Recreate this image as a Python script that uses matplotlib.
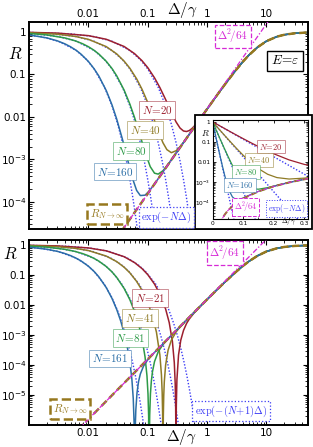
import numpy as np
import matplotlib
matplotlib.use("Agg")
import matplotlib.pyplot as plt
from matplotlib.colors import to_rgba
from matplotlib.patches import Rectangle
from matplotlib.ticker import LogLocator, NullFormatter, MultipleLocator

# ---------------- values ----------------
# R of the infinite chain
delta_inf = [0.005, 0.01, 0.02, 0.03, 0.04, 0.05, 0.07, 0.1, 0.15, 0.2, 0.25, 0.3, 0.4,
             0.5, 0.7, 1.0, 1.5, 2.0, 3.0, 4.0, 5.0, 7.0, 10.0, 15.0, 20.0, 30.0, 50.0]
r_inf = [3.91e-7, 1.56e-6, 6.25e-6, 1.41e-5, 2.50e-5, 3.91e-5, 7.66e-5, 1.56e-4, 3.51e-4,
         6.25e-4, 9.76e-4, 1.40e-3, 2.49e-3, 3.89e-3, 7.60e-3, 0.0154, 0.0340, 0.0588,
         0.123, 0.200, 0.281, 0.434, 0.610, 0.779, 0.862, 0.934, 0.975]
# small-Delta asymptote Delta^2/64
delta_sq = [0.005, 0.01, 0.02, 0.03, 0.04, 0.05, 0.07, 0.1, 0.15, 0.2, 0.25, 0.3, 0.5,
            1.0, 5.0, 12.0]
r_sq = [3.91e-7, 1.56e-6, 6.25e-6, 1.41e-5, 2.50e-5, 3.91e-5, 7.66e-5, 1.56e-4, 3.52e-4,
        6.25e-4, 9.77e-4, 1.41e-3, 3.91e-3, 0.0156, 0.391, 2.25]

# top panel, even N (curves continue on r_inf past their last point)
delta_n20 = [0.001, 0.003, 0.01, 0.02, 0.04, 0.06, 0.08, 0.1, 0.13, 0.16, 0.2, 0.25, 0.3,
             0.35, 0.4, 0.45, 0.5, 0.55, 0.6, 0.7, 0.8, 1.0]
r_n20 = [0.980, 0.943, 0.821, 0.674, 0.456, 0.309, 0.211, 0.145, 0.0834, 0.0492, 0.0257,
         0.0128, 7.62e-3, 5.47e-3, 4.67e-3, 4.54e-3, 4.78e-3, 5.28e-3, 5.97e-3, 7.76e-3,
         9.97e-3, 0.0154]
delta_n40 = [0.001, 0.003, 0.006, 0.01, 0.02, 0.03, 0.04, 0.05, 0.065, 0.08, 0.1, 0.12,
             0.15, 0.18, 0.21, 0.25, 0.3, 0.35, 0.4, 0.5, 0.6]
r_n40 = [0.961, 0.888, 0.788, 0.672, 0.453, 0.305, 0.206, 0.140, 0.0788, 0.0449, 0.0219,
         0.0112, 4.70e-3, 2.48e-3, 1.70e-3, 1.44e-3, 1.60e-3, 1.99e-3, 2.53e-3, 3.90e-3,
         5.59e-3]
delta_n80 = [0.001, 0.002, 0.004, 0.006, 0.008, 0.01, 0.0125, 0.015, 0.02, 0.025, 0.03,
             0.04, 0.05, 0.06, 0.075, 0.09, 0.11, 0.13, 0.15, 0.18, 0.21, 0.25, 0.3]
r_n80 = [0.923, 0.853, 0.726, 0.620, 0.529, 0.451, 0.370, 0.303, 0.204, 0.138, 0.0930,
         0.0428, 0.0200, 9.65e-3, 3.50e-3, 1.49e-3, 6.77e-4, 4.74e-4, 4.51e-4, 5.40e-4,
         7.01e-4, 9.79e-4, 1.41e-3]
delta_n160 = [0.001, 0.002, 0.003, 0.004, 0.005, 0.00625, 0.0075, 0.01, 0.0125, 0.015, 0.02,
              0.025, 0.03, 0.0375, 0.045, 0.055, 0.065, 0.075, 0.09, 0.105, 0.125, 0.15, 0.2]
r_n160 = [0.852, 0.727, 0.619, 0.528, 0.450, 0.369, 0.302, 0.203, 0.136, 0.0919, 0.0418,
          0.0192, 8.92e-3, 2.97e-3, 1.09e-3, 3.67e-4, 1.86e-4, 1.41e-4, 1.44e-4, 1.78e-4,
          2.46e-4, 3.52e-4, 6.25e-4]

# bottom panel, odd N
delta_n21 = [0.001, 0.003, 0.01, 0.02, 0.04, 0.06, 0.08, 0.1, 0.13, 0.16, 0.2, 0.23, 0.26,
             0.28, 0.29, 0.295, 0.2975, 0.2985, 0.2995, 0.3005, 0.303, 0.31, 0.33, 0.36, 0.4,
             0.45, 0.5, 0.6, 0.7, 0.8, 1.0]
r_n21 = [0.978, 0.935, 0.800, 0.640, 0.408, 0.259, 0.164, 0.103, 0.0498, 0.0231, 7.36e-3,
         2.59e-3, 6.14e-4, 1.20e-4, 2.42e-5, 4.38e-6, 5.2e-7, 3.4e-8, 1.2e-7, 7.8e-7,
         4.79e-6, 3.26e-5, 2.17e-4, 6.73e-4, 1.42e-3, 2.42e-3, 3.40e-3, 5.39e-3, 7.52e-3,
         9.87e-3, 0.0154]
delta_n41 = [0.001, 0.003, 0.006, 0.01, 0.02, 0.03, 0.04, 0.05, 0.065, 0.08, 0.1, 0.12, 0.14,
             0.16, 0.17, 0.175, 0.178, 0.1798, 0.1812, 0.183, 0.186, 0.19, 0.2, 0.22, 0.25,
             0.3, 0.35, 0.4, 0.5, 0.6]
r_n41 = [0.959, 0.881, 0.776, 0.655, 0.428, 0.280, 0.182, 0.118, 0.0611, 0.0311, 0.0121,
         4.29e-3, 1.25e-3, 2.17e-4, 4.77e-5, 1.21e-5, 2.41e-6, 2.0e-7, 1.6e-7, 2.09e-6,
         9.79e-6, 2.76e-5, 1.00e-4, 3.11e-4, 6.76e-4, 1.27e-3, 1.86e-3, 2.47e-3, 3.89e-3,
         5.59e-3]
delta_n81 = [0.001, 0.002, 0.004, 0.006, 0.008, 0.01, 0.0125, 0.015, 0.02, 0.025, 0.03, 0.04,
             0.05, 0.06, 0.07, 0.08, 0.09, 0.097, 0.101, 0.1035, 0.1051, 0.1061, 0.1078,
             0.111, 0.115, 0.12, 0.13, 0.15, 0.18, 0.22, 0.3]
r_n81 = [0.921, 0.848, 0.720, 0.610, 0.517, 0.439, 0.357, 0.290, 0.192, 0.127, 0.0833,
         0.0357, 0.0150, 6.07e-3, 2.30e-3, 7.63e-4, 1.88e-4, 4.38e-5, 1.08e-5, 2.01e-6,
         9.5e-8, 1.3e-7, 2.07e-6, 1.10e-5, 2.93e-5, 5.93e-5, 1.30e-4, 2.76e-4, 4.79e-4,
         7.50e-4, 1.40e-3]
delta_n161 = [0.001, 0.002, 0.003, 0.004, 0.005, 0.00625, 0.0075, 0.01, 0.0125, 0.015, 0.02,
              0.025, 0.03, 0.035, 0.04, 0.045, 0.05, 0.054, 0.057, 0.059, 0.06, 0.0607,
              0.0617, 0.063, 0.066, 0.07, 0.075, 0.085, 0.1, 0.12, 0.15, 0.2]
r_n161 = [0.850, 0.723, 0.615, 0.522, 0.444, 0.362, 0.296, 0.197, 0.131, 0.0869, 0.0382,
          0.0166, 7.10e-3, 2.95e-3, 1.17e-3, 4.20e-4, 1.25e-4, 3.42e-5, 7.61e-6, 1.06e-6,
          6.3e-8, 7.0e-8, 9.2e-7, 3.23e-6, 1.21e-5, 2.81e-5, 5.01e-5, 9.22e-5, 1.49e-4,
          2.23e-4, 3.51e-4, 6.25e-4]

# exp guides: one decay profile, Delta positions per curve
exp_decay = [0.980, 0.905, 0.779, 0.607, 0.368, 0.223, 0.135, 0.0498, 0.0183, 6.74e-3,
             2.48e-3, 9.12e-4, 3.35e-4, 1.23e-4, 4.54e-5, 1.67e-5, 6.14e-6, 2.26e-6, 8.32e-7]
delta_exp20 = [0.001, 0.005, 0.0125, 0.025, 0.05, 0.075, 0.1, 0.15, 0.2, 0.25, 0.3, 0.35,
               0.4, 0.45, 0.5, 0.55, 0.6, 0.65, 0.7]
delta_exp40 = [0.0005, 0.0025, 0.00625, 0.0125, 0.025, 0.0375, 0.05, 0.075, 0.1, 0.125,
               0.15, 0.175, 0.2, 0.225, 0.25, 0.275, 0.3, 0.325, 0.35]
delta_exp80 = [0.00025, 0.00125, 0.003125, 0.00625, 0.0125, 0.01875, 0.025, 0.0375, 0.05,
               0.0625, 0.075, 0.0875, 0.1, 0.1125, 0.125, 0.1375, 0.15, 0.1625, 0.175]
delta_exp160 = [0.000125, 0.000625, 0.0015625, 0.003125, 0.00625, 0.009375, 0.0125,
                0.01875, 0.025, 0.03125, 0.0375, 0.04375, 0.05, 0.05625, 0.0625, 0.06875,
                0.075, 0.08125, 0.0875]
delta_exp22 = [0.000909, 0.004545, 0.011364, 0.022727, 0.045455, 0.068182, 0.090909,
               0.136364, 0.181818, 0.227273, 0.272727, 0.318182, 0.363636, 0.409091,
               0.454545, 0.5, 0.545455, 0.590909, 0.636364]
delta_exp42 = [0.000476, 0.002381, 0.005952, 0.011905, 0.02381, 0.035714, 0.047619,
               0.071429, 0.095238, 0.119048, 0.142857, 0.166667, 0.190476, 0.214286,
               0.238095, 0.261905, 0.285714, 0.309524, 0.333333]
delta_exp82 = [0.000244, 0.00122, 0.003049, 0.006098, 0.012195, 0.018293, 0.02439,
               0.036585, 0.04878, 0.060976, 0.073171, 0.085366, 0.097561, 0.109756,
               0.121951, 0.134146, 0.146341, 0.158537, 0.170732]
delta_exp162 = [0.000123, 0.000617, 0.001543, 0.003086, 0.006173, 0.009259, 0.012346,
                0.018519, 0.024691, 0.030864, 0.037037, 0.04321, 0.049383, 0.055556,
                0.061728, 0.067901, 0.074074, 0.080247, 0.08642]

top_labels = ["20", "40", "80", "160"]
bottom_labels = ["21", "41", "81", "161"]

# ---------------- style ----------------
C_RED, C_OLIVE, C_GREEN, C_BLUE = "#9c1f2e", "#8f7b26", "#2d9a47", "#2b6ea6"
C_INF, C_MAG, C_EXP = "#96781e", "#d62ad6", "#3c3cf5"
colors = [C_RED, C_OLIVE, C_GREEN, C_BLUE]

W, H = 313, 447
fig = plt.figure(figsize=(W / 100, H / 100), dpi=100)


def px_axes(x0, y0, x1, y1):
    return fig.add_axes([x0 / W, 1 - y1 / H, (x1 - x0) / W, (y1 - y0) / H])


def label(x, y, s, color, size, ls="-", lw=0.7, ec_alpha=0.5, pad=0.25, box=True):
    kw = dict(color=color, fontsize=size, ha="center", va="center", math_fontfamily="cm")
    if box:
        kw["bbox"] = dict(boxstyle=f"square,pad={pad}", fc="white",
                          ec=to_rgba(color, ec_alpha), lw=lw, ls=ls)
    fig.text(x / W, 1 - y / H, s, **kw)


def extend(d, r):
    d, r = np.asarray(d), np.asarray(r)
    di, ri = np.asarray(delta_inf), np.asarray(r_inf)
    m = di > d[-1]
    return np.concatenate([d, di[m]]), np.concatenate([r, ri[m]])


def draw(ax, curves, exps, lw=1.1):
    for (d, r), c in zip(curves, colors):
        x, y = extend(d, r)
        ax.plot(x, y, color=c, lw=lw, zorder=2)
    for d in exps:
        ax.plot(d, exp_decay, color=C_EXP, lw=1.0, ls=(0, (1, 1.3)), zorder=1.5)
    ax.plot(delta_inf, r_inf, color=C_INF, lw=lw * 1.6, ls=(0, (3, 1.5)), zorder=2.5)
    ax.plot(delta_sq, r_sq, color=C_MAG, lw=lw * 0.85, ls=(0, (4, 1.5, 1, 1.5)), zorder=2.6)


def style_log(ax, ylim, yticks, ylabels, top):
    ax.set_xscale("log")
    ax.set_yscale("log")
    ax.set_xlim(1e-3, 50)
    ax.set_ylim(*ylim)
    ax.set_xticks([0.01, 0.1, 1, 10])
    ax.set_xticklabels(["0.01", "0.1", "1", "10"])
    ax.set_yticks(yticks)
    ax.set_yticklabels(ylabels)
    for a in (ax.xaxis, ax.yaxis):
        a.set_minor_locator(LogLocator(base=10, subs=[2, 3, 4, 5, 6, 7, 8, 9], numticks=20))
        a.set_minor_formatter(NullFormatter())
    ax.tick_params(which="both", direction="in", top=True, right=True, labelsize=7.5, pad=2)
    ax.tick_params(labeltop=top, labelbottom=not top)
    ax.tick_params(which="major", length=3.5, width=0.8)
    ax.tick_params(which="minor", length=2, width=0.6)
    for s in ax.spines.values():
        s.set_linewidth(1.4)


# ---------------- top panel: E = epsilon, even N ----------------
ax1 = px_axes(29, 22, 308, 229)
draw(ax1, [(delta_n20, r_n20), (delta_n40, r_n40), (delta_n80, r_n80), (delta_n160, r_n160)],
     [delta_exp20, delta_exp40, delta_exp80, delta_exp160])
style_log(ax1, (2.3e-5, 1.72), [1e-4, 1e-3, 1e-2, 0.1, 1],
          ["$10^{-4}$", "$10^{-3}$", "0.01", "0.1", "1"], top=True)

# ---------------- bottom panel: odd N ----------------
ax2 = px_axes(29, 240, 308, 425)
draw(ax2, [(delta_n21, r_n21), (delta_n41, r_n41), (delta_n81, r_n81), (delta_n161, r_n161)],
     [delta_exp22, delta_exp42, delta_exp82, delta_exp162])
style_log(ax2, (1e-6, 1.47), [1e-5, 1e-4, 1e-3, 1e-2, 0.1, 1],
          ["$10^{-5}$", "$10^{-4}$", "$10^{-3}$", "0.01", "0.1", "1"], top=False)

# ---------------- inset (linear Delta) ----------------
fig.add_artist(Rectangle((194.5 / W, 1 - 229 / H), (312 - 194.5) / W, (229 - 115) / H,
                         transform=fig.transFigure, fc="white", ec="black", lw=1.3,
                         zorder=1))
axi = px_axes(212.5, 120, 307.5, 219)
axi.set_zorder(2)
draw(axi, [(delta_n20, r_n20), (delta_n40, r_n40), (delta_n80, r_n80), (delta_n160, r_n160)],
     [delta_exp20, delta_exp40, delta_exp80, delta_exp160], lw=0.9)
axi.set_yscale("log")
axi.set_xlim(0, 0.31)
axi.set_ylim(1.5e-5, 1.22)
axi.set_xticks([0, 0.1, 0.2, 0.3])
axi.set_xticklabels(["0", "0.1", "0.2", "0.3"])
axi.xaxis.set_minor_locator(MultipleLocator(0.05))
axi.set_yticks([1e-4, 1e-3, 1e-2, 0.1, 1])
axi.set_yticklabels(["$10^{-4}$", "$10^{-3}$", "0.01", "0.1", "1"])
axi.yaxis.set_minor_locator(LogLocator(base=10, subs=[2, 3, 4, 5, 6, 7, 8, 9], numticks=20))
axi.yaxis.set_minor_formatter(NullFormatter())
axi.tick_params(which="both", direction="in", top=True, right=True, labelsize=4.2, pad=1.5)
axi.tick_params(which="major", length=2.2, width=0.6)
axi.tick_params(which="minor", length=1.2, width=0.5)
for s in axi.spines.values():
    s.set_linewidth(0.8)

# ---------------- axis labels ----------------
label(15, 54, r"$R$", "black", 12, box=False)
label(182, 10, r"$\Delta/\gamma$", "black", 11, box=False)
label(10, 254, r"$R$", "black", 12, box=False)
label(181, 437, r"$\Delta/\gamma$", "black", 11, box=False)
label(205, 133, r"$R$", "black", 6.5, box=False)
label(289, 221.5, r"$\Delta/\gamma$", "black", 5, box=False)

# ---------------- curve labels: top ----------------
for (x, y), n, c in zip([(157, 110), (145, 130), (131, 151), (115, 171.5)], top_labels, colors):
    label(x, y, rf"$N\!=\!{n}$", c, 8)
label(107, 214, r"$R_{N\to\infty}$", C_INF, 8, ls="--", lw=1.8, ec_alpha=1)
label(166.5, 217.5, r"$\exp(-N\Delta)$", C_EXP, 7.5, ls=":", lw=0.9, ec_alpha=1)
label(233, 36.5, r"$\Delta^2\!/64$", C_MAG, 8, ls="--", lw=0.9, ec_alpha=1)
label(285, 61, r"$E\!=\!\varepsilon$", "black", 9.5, lw=1.0, ec_alpha=1, pad=0.3)

# ---------------- curve labels: inset ----------------
for (x, y), n, c in zip([(271, 146.5), (259, 160), (246, 172), (240, 185)], top_labels, colors):
    label(x, y, rf"$N\!=\!{n}$", c, 6, pad=0.2)
label(245.5, 207, r"$\Delta^2\!/64$", C_MAG, 6, ls="--", lw=0.7, ec_alpha=1, pad=0.2)
label(286.5, 208.5, r"$\exp(-N\Delta)$", C_EXP, 5.5, ls=":", lw=0.7, ec_alpha=1, pad=0.2)

# ---------------- curve labels: bottom ----------------
for (x, y), n, c in zip([(150, 298), (140, 318), (130.5, 338), (110, 358.5)], bottom_labels,
                        colors):
    label(x, y, rf"$N\!=\!{n}$", c, 8)
label(70, 409, r"$R_{N\to\infty}$", C_INF, 8, ls="--", lw=1.8, ec_alpha=1)
label(231, 411, r"$\exp(-(N\!+\!1)\Delta)$", C_EXP, 7.5, ls=":", lw=0.9, ec_alpha=1)
label(225, 253, r"$\Delta^2\!/64$", C_MAG, 8, ls="--", lw=0.9, ec_alpha=1)

fig.savefig("out.png", dpi=100)
